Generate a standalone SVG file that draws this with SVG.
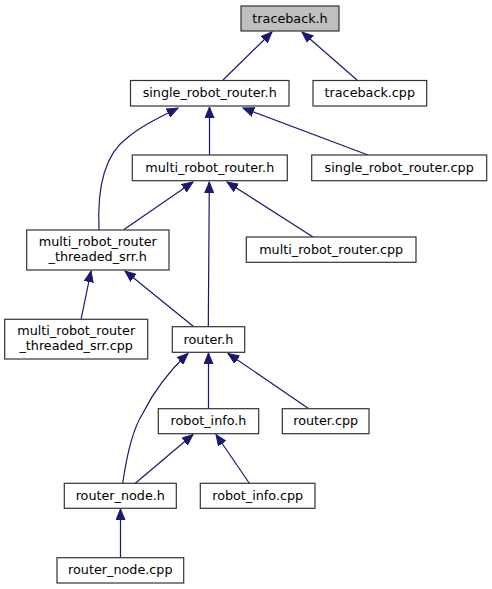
<svg xmlns="http://www.w3.org/2000/svg" width="492" height="589" viewBox="0 0 492 589">
<style>
.n rect{fill:#ffffff;stroke:#333333;stroke-width:1.2}
.n.root rect{fill:#bfbfbf}
.n text{font-family:"DejaVu Sans",sans-serif;font-size:12.75px;fill:#000000;text-anchor:middle}
.e path{fill:none;stroke:#191970;stroke-width:1.2}
</style>
<defs>
<marker id="ah" markerUnits="userSpaceOnUse" markerWidth="12" markerHeight="10" refX="11" refY="5" orient="auto" viewBox="0 0 12 10">
<path d="M0,0.5 L11,5 L0,9.5 z" fill="#191970" stroke="#191970" stroke-width="1"/>
</marker>
</defs>
<g id="edges" class="e">
<path d="M223,80 L272,32" marker-end="url(#ah)"/>
<path d="M357,80 L302,32" marker-end="url(#ah)"/>
<path d="M99,230 C97,188 104,155 127,138 C140,127 156,119 178,108" marker-end="url(#ah)"/>
<path d="M209.5,155 L209.5,107" marker-end="url(#ah)"/>
<path d="M368,155 L243,108" marker-end="url(#ah)"/>
<path d="M124,229.5 L193,182" marker-end="url(#ah)"/>
<path d="M208.3,326.5 L209.3,182" marker-end="url(#ah)"/>
<path d="M313,237 L227,182" marker-end="url(#ah)"/>
<path d="M81,319.5 L91,271" marker-end="url(#ah)"/>
<path d="M193.5,326.5 L125,271" marker-end="url(#ah)"/>
<path d="M122.7,483.5 C126,460 132,430 143,413 C153,393 167,373 188,353.5" marker-end="url(#ah)"/>
<path d="M208.5,408.5 L208.5,353" marker-end="url(#ah)"/>
<path d="M308.5,408.5 L228,353.5" marker-end="url(#ah)"/>
<path d="M135,483.5 L193,434.5" marker-end="url(#ah)"/>
<path d="M249.5,483.5 L216,434.5" marker-end="url(#ah)"/>
<path d="M120.5,557.5 L120.5,509" marker-end="url(#ah)"/>
</g>
<g id="traceback_h" class="n root"><rect x="241" y="6" width="98" height="25"/><text x="290" y="22.5">traceback.h</text></g>
<g id="single_robot_router_h" class="n"><rect x="130.5" y="80.5" width="158.5" height="25.5"/><text x="209.7" y="97">single_robot_router.h</text></g>
<g id="traceback_cpp" class="n"><rect x="313" y="80.5" width="113.7" height="25.5"/><text x="369.8" y="97">traceback.cpp</text></g>
<g id="multi_robot_router_h" class="n"><rect x="132.3" y="155" width="155" height="25.7"/><text x="209.8" y="172">multi_robot_router.h</text></g>
<g id="single_robot_router_cpp" class="n"><rect x="311.7" y="155" width="175" height="25.7"/><text x="399.2" y="172">single_robot_router.cpp</text></g>
<g id="multi_robot_router_threaded_srr_h" class="n"><rect x="26.7" y="230" width="142.3" height="40"/><text x="97.8" y="245.7">multi_robot_router</text><text x="97.8" y="260.7">_threaded_srr.h</text></g>
<g id="multi_robot_router_cpp" class="n"><rect x="246.3" y="237" width="169.7" height="25.3"/><text x="331.2" y="254">multi_robot_router.cpp</text></g>
<g id="multi_robot_router_threaded_srr_cpp" class="n"><rect x="4.7" y="319.3" width="143" height="39.7"/><text x="76.2" y="335">multi_robot_router</text><text x="76.2" y="350">_threaded_srr.cpp</text></g>
<g id="router_h" class="n"><rect x="172.3" y="326.7" width="72.4" height="25.6"/><text x="208.5" y="343.5">router.h</text></g>
<g id="robot_info_h" class="n"><rect x="158.3" y="408.7" width="100.4" height="25"/><text x="208.5" y="425.2">robot_info.h</text></g>
<g id="router_cpp" class="n"><rect x="282.3" y="408.7" width="86.7" height="25"/><text x="325.7" y="425.2">router.cpp</text></g>
<g id="router_node_h" class="n"><rect x="64.3" y="483.3" width="112" height="25"/><text x="120.3" y="500">router_node.h</text></g>
<g id="robot_info_cpp" class="n"><rect x="200.3" y="483.3" width="114.7" height="25"/><text x="257.7" y="500">robot_info.cpp</text></g>
<g id="router_node_cpp" class="n"><rect x="57" y="557.7" width="126.7" height="25.3"/><text x="120.3" y="574.3">router_node.cpp</text></g>
</svg>
